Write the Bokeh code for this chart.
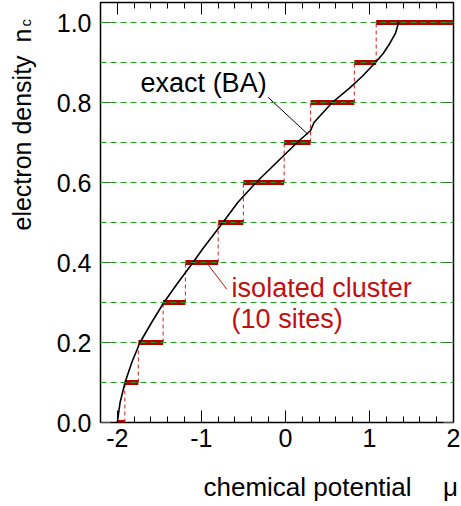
from bokeh.plotting import figure
from bokeh.layouts import column, row
from bokeh.models import FixedTicker, LinearAxis, Range1d, Label, PrintfTickFormatter
from bokeh.embed import file_html
from bokeh.resources import INLINE

# ---- data -------------------------------------------------------------
# isolated cluster (10 sites): density plateaus and the chemical potentials
# at which the density jumps (plateau k spans step_mu[k] .. step_mu[k+1])
plateau_n = [0.0, 0.1, 0.2, 0.3, 0.4, 0.5, 0.6, 0.7, 0.8, 0.9, 1.0]
step_mu = [-2.0, -1.91, -1.75, -1.455, -1.19, -0.80, -0.50, -0.015, 0.30, 0.82, 1.08, 2.0]

# exact Bethe-ansatz result n(mu)
ba_mu = [-2.0, -1.967, -1.908, -1.828, -1.730, -1.592, -1.446, -1.277, -1.099,
         -0.981, -0.744, -0.567, -0.349, -0.105, 0.140, 0.300, 0.340, 0.557,
         0.763, 0.912, 1.071, 1.161, 1.240, 1.308, 1.347]
ba_n = [0.0, 0.05, 0.10, 0.15, 0.20, 0.25, 0.30, 0.35, 0.40,
        0.435, 0.50, 0.55, 0.60, 0.65, 0.70, 0.73, 0.75, 0.80,
        0.836, 0.865, 0.90, 0.922, 0.947, 0.972, 1.0]

x_major_ticks = [-2, -1, 0, 1, 2]
x_tick_labels = {-2: "-2", -1: "-1", 0: "0", 1: "1", 2: "2"}
x_minor_ticks = [-2.0, -1.8, -1.6, -1.4, -1.2, -1.0, -0.8, -0.6, -0.4, -0.2, 0.0,
                 0.2, 0.4, 0.6, 0.8, 1.0, 1.2, 1.4, 1.6, 1.8, 2.0]
y_major_ticks = [0.0, 0.2, 0.4, 0.6, 0.8, 1.0]

# annotation text anchors and leader lines (data coordinates)
ba_label_pos = (-1.723, 0.848)
ba_leader = ([-0.204, 0.267], [0.8126, 0.7206])
cl_label_pos = (-0.640, 0.336)
cl_label2_pos = (-0.640, 0.258)
cl_leader = ([-0.920, -0.700], [0.3947, 0.3338])

FONT = "Liberation Sans"
RED = "#b30000"
RED_TXT = "#c01010"
FS = "25px"
FS_ANN = "27px"

YLAB_W = 42
TOP_H = 460
W = 461
H = 506
FRAME_TOP = 2
FRAME_BOTTOM = 422

x_range = Range1d(-2.2, 2.0)
y_range = Range1d(0, 1.05)

p = figure(width=W - YLAB_W, height=TOP_H, x_range=x_range, y_range=y_range,
           output_backend="svg", toolbar_location=None,
           min_border_left=100 - YLAB_W, min_border_right=8,
           min_border_top=FRAME_TOP, min_border_bottom=TOP_H - FRAME_BOTTOM)
p.outline_line_color = "black"
p.outline_line_width = 1.5

# grid: dashed green at every plateau level, drawn above the bars
p.xgrid.visible = False
p.ygrid.ticker = FixedTicker(ticks=plateau_n)
p.ygrid.grid_line_color = "#1f9e1f"
p.ygrid.grid_line_dash = "6 4"
p.ygrid.grid_line_width = 1
p.ygrid.level = "overlay"

# vertical dashed jumps
p.segment(x0=step_mu[1:-1], x1=step_mu[1:-1], y0=plateau_n[:-1], y1=plateau_n[1:],
          line_color="#cc2020", line_width=1, line_dash="4 3")
# plateaus
p.segment(x0=step_mu[:-1], x1=step_mu[1:], y0=plateau_n, y1=plateau_n,
          line_color=RED, line_width=4.8, line_cap="butt")
# exact curve
p.line(ba_mu, ba_n, line_color="black", line_width=1.6)

# leader lines
p.line(ba_leader[0], ba_leader[1], line_color="black", line_width=1)
p.line(cl_leader[0], cl_leader[1], line_color=RED_TXT, line_width=1)


def style_x(ax, labels=True):
    ax.ticker = FixedTicker(ticks=x_major_ticks, minor_ticks=x_minor_ticks)
    ax.major_tick_in = 12
    ax.major_tick_out = 0
    ax.minor_tick_in = 6
    ax.minor_tick_out = 0
    ax.major_tick_line_color = "black"
    ax.minor_tick_line_color = "black"
    ax.axis_line_color = None
    if labels:
        ax.major_label_overrides = x_tick_labels
        ax.major_label_text_font = FONT
        ax.major_label_text_font_size = FS
        ax.major_label_text_color = "black"
        ax.major_label_standoff = 6
    else:
        ax.major_label_overrides = {t: "" for t in x_major_ticks}
        ax.major_label_text_font_size = "0px"
        ax.major_label_standoff = 0


def style_y(ax, labels=True):
    ax.ticker = FixedTicker(ticks=y_major_ticks, minor_ticks=[])
    ax.formatter = PrintfTickFormatter(format="%.1f")
    ax.major_tick_in = 10
    ax.major_tick_out = 0
    ax.minor_tick_line_color = None
    ax.major_tick_line_color = "#555555"
    ax.axis_line_color = None
    if labels:
        ax.major_label_text_font = FONT
        ax.major_label_text_font_size = FS
        ax.major_label_text_color = "black"
        ax.major_label_standoff = 9
    else:
        ax.major_label_overrides = {t: "" for t in y_major_ticks}
        ax.major_label_text_font_size = "0px"
        ax.major_label_standoff = 0


style_x(p.xaxis[0])
style_y(p.yaxis[0])
top_ax = LinearAxis()
style_x(top_ax, labels=False)
p.add_layout(top_ax, "above")
right_ax = LinearAxis()
style_y(right_ax, labels=False)
p.add_layout(right_ax, "right")


def lab(fig, x, y, text, size=FS, color="black", angle=0.0):
    fig.add_layout(Label(x=x, y=y, text=text, text_font=FONT, text_font_size=size,
                         text_color=color, angle=angle, text_align="left",
                         text_baseline="alphabetic"))


lab(p, ba_label_pos[0], ba_label_pos[1], "exact (BA)", size=FS_ANN)
lab(p, cl_label_pos[0], cl_label_pos[1], "isolated cluster", size=FS_ANN, color=RED_TXT)
lab(p, cl_label2_pos[0], cl_label2_pos[1], "(10 sites)", size=FS_ANN, color=RED_TXT)


def blank_fig(width, height, xr, yr, **borders):
    f = figure(width=width, height=height, x_range=xr, y_range=yr,
               output_backend="svg", toolbar_location=None, **borders)
    f.axis.visible = False
    f.grid.visible = False
    f.outline_line_color = None
    return f


# y-axis title panel (pixel units across, density units along)
ylab = blank_fig(YLAB_W, TOP_H, Range1d(0, YLAB_W), y_range,
                 min_border_left=0, min_border_right=0,
                 min_border_top=FRAME_TOP, min_border_bottom=TOP_H - FRAME_BOTTOM)
ANG = 1.5707963
lab(ylab, 21, 0.48, "electron density", angle=ANG)
lab(ylab, 21, 0.950, "n", angle=ANG)
lab(ylab, 25, 0.990, "c", size="15px", angle=ANG)

# x-axis title panel (mu units across, pixel units up); extends to the page edge
XLAB_H = H - TOP_H
xlab = blank_fig(W, XLAB_H, Range1d(-2.2, 2.0 + 8 / 84.05), Range1d(0, XLAB_H),
                 min_border_left=100, min_border_right=0,
                 min_border_top=0, min_border_bottom=0)
lab(xlab, -0.975, XLAB_H - (486 - TOP_H), "chemical potential", size="26px")
lab(xlab, 1.875, XLAB_H - (486 - TOP_H), "\u03bc", size="26px")

layout = column(row(ylab, p), xlab)
open("out.html", "w").write(file_html(layout, INLINE))
